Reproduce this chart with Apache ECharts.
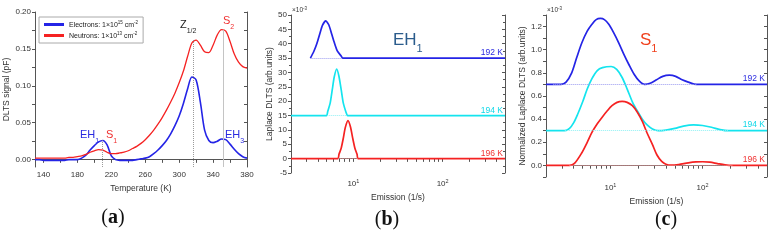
<!DOCTYPE html>
<html>
<head>
<meta charset="utf-8">
<script src="https://cdn.jsdelivr.net/npm/echarts@6/dist/echarts.min.js"></script>
<style>
  html, body { margin: 0; padding: 0; background: #fff; }
  #chart { width: 774px; height: 241px; }
</style>
</head>
<body>
<div id="chart"></div>
<script>
// ---- (a) DLTS spectra vs temperature
const tempK = [130,135,140,145,150,155,160,165,170,175,180,185,190,195,200,205,210,215,220,225,
  230,235,240,245,250,255,260,265,270,275,280,285,290,295,300,305,310,315,320,325,
  330,335,340,345,350,355,360,365,370,375,380];
const electrons = [0.000,0.000,-0.001,-0.001,-0.001,-0.001,-0.001,-0.001,0.000,0.000,0.000,0.002,0.006,0.013,0.019,0.024,0.026,0.020,0.005,0.000,
  -0.001,-0.001,-0.001,-0.001,0.000,0.001,0.002,0.004,0.008,0.013,0.019,0.026,0.035,0.046,0.059,0.076,0.096,0.112,0.108,0.078,
  0.040,0.026,0.023,0.025,0.028,0.027,0.021,0.014,0.008,0.004,0.002];
const neutrons = [0.002,0.002,0.002,0.002,0.002,0.002,0.002,0.002,0.003,0.003,0.004,0.005,0.007,0.010,0.012,0.0135,0.013,0.010,0.008,0.008,
  0.009,0.010,0.012,0.015,0.018,0.022,0.027,0.033,0.040,0.048,0.057,0.067,0.078,0.090,0.104,0.120,0.140,0.158,0.162,0.155,
  0.146,0.145,0.155,0.169,0.176,0.174,0.160,0.143,0.132,0.126,0.124];
const peakTemps = [209, 317, 352];
const peakTops = [0.026, 0.163, 0.176];
const tempTicks = [140,160,180,200,220,240,260,280,300,320,340,360,380];
const tempLabels = [140,180,220,260,300,340,380];
const dltsTicks = [0,0.025,0.05,0.075,0.1,0.125,0.15,0.175,0.2];
const dltsLabels = [0,0.05,0.1,0.15,0.2];

// ---- (b) Laplace DLTS, EH1 (x1e-3)
const rateB192 = [3.3,3.6,3.9,4.2,4.5,4.9,5.3,5.7,6.1,6.6,7.3,7.6,500];
const lapB192  = [35,37.3,40.1,43.4,46.4,48,46.6,43.5,40.5,37.5,35.7,35,35];
const rateB194 = [2,5.0,5.15,5.5,5.8,6.1,6.5,6.9,7.3,7.7,8.3,8.6,500];
const lapB194  = [15,15,16.3,19.4,24,28.4,31.2,28.6,24,19.4,16,15,15];
const rateB196 = [2,6.7,6.9,7.3,7.7,8.1,8.7,9.3,9.8,10.4,11,11.3,500];
const lapB196  = [0,0,1.5,3.6,7,10.7,13.2,10.9,7.3,3.6,1.5,0,0];
const baseB = [35, 15, 0];
const spanB = [[3.3, 7.5], [5.1, 8.5], [6.8, 11.2]];

// ---- (c) normalized Laplace DLTS, S1 (x1e-3)
const rateC192 = [2,2.9,3.3,3.8,4.3,4.9,5.6,6.3,7.0,7.8,8.6,9.6,10.8,12.3,14,15.9,18,20.5,23.5,27,31.6,37,43.6,51,60,70,86,500];
const normC192 = [0.70,0.70,0.72,0.80,0.93,1.06,1.16,1.22,1.26,1.27,1.26,1.22,1.15,1.06,0.96,0.87,0.79,0.73,0.70,0.71,0.74,0.77,0.78,0.77,0.74,0.72,0.70,0.70];
const rateC194 = [2,3.2,3.6,4.0,4.4,5.0,5.6,6.3,7.2,8.2,10.2,11.7,13.4,15.2,17.3,19.6,22.2,25,28.6,33,40,50,62,80,100,125,155,190,500];
const normC194 = [0.30,0.30,0.32,0.37,0.44,0.55,0.66,0.75,0.82,0.845,0.855,0.83,0.76,0.66,0.55,0.47,0.40,0.35,0.315,0.30,0.305,0.32,0.34,0.35,0.345,0.33,0.31,0.30,0.30];
const rateC196 = [2,3.6,4.1,4.9,5.6,6.3,7.2,8.1,9.2,10.4,11.8,13.4,15.2,17.3,19.6,22.2,25,28.6,32,36,40,46,55,70,85,100,120,145,175,210,500];
const normC196 = [0,0,0.02,0.11,0.2,0.285,0.36,0.415,0.47,0.516,0.545,0.553,0.545,0.516,0.46,0.38,0.28,0.18,0.09,0.035,0.01,0.002,0.008,0.022,0.03,0.032,0.028,0.016,0.005,0,0];
const baseC = [0.7, 0.3, 0];
const spanC = [[2.4, 86], [3.2, 190], [3.6, 210]];

const emissionTicks = [2,3,4,5,6,7,8,9,10,20,30,40,50,60,70,80,90,100,200,300,400,500];
const emissionLabels = [10, 100];
const normTicks = [-0.1,0,0.1,0.2,0.3,0.4,0.5,0.6,0.7,0.8,0.9,1.0,1.1,1.2,1.3];
const normLabels = [0,0.2,0.4,0.6,0.8,1.0,1.2];

const BLUE = '#2424e6', RED = '#f52222', CYAN = '#14e4ee';
const FF = 'Liberation Sans, Arial, sans-serif';
const pair = (xs, ys) => xs.map((x, i) => [x, ys[i]]);

const axisLine = { show: true, lineStyle: { color: '#555', width: 1 } };
const nameStyle = { fontSize: 8.5, color: '#333', fontFamily: FF };
const lblStyle = { fontSize: 8, color: '#333', fontFamily: FF };

// bottom / left axes with labels, top / right copies only carry inward ticks
function xMain(grid, extra) {
  return Object.assign({
    gridIndex: grid, type: 'value', axisLine, splitLine: { show: false },
    nameLocation: 'middle', nameTextStyle: nameStyle
  }, extra);
}
function mirror(base, pos) {
  return Object.assign({}, base, {
    position: pos, name: '',
    axisLabel: { show: false },
    axisTick: Object.assign({}, base.axisTick, { inside: true }),
    minorTick: Object.assign({}, base.minorTick || { show: false }, { inside: true })
  });
}

const logLabel = {
  customValues: emissionLabels, margin: 5,
  formatter: v => '{b|10}{e|' + Math.round(Math.log10(v)) + '}',
  rich: {
    b: { fontSize: 8, color: '#333', fontFamily: FF, lineHeight: 10, verticalAlign: 'bottom' },
    e: { fontSize: 5.5, color: '#333', fontFamily: FF, lineHeight: 6, verticalAlign: 'top' }
  }
};

const xA = xMain(0, { min: 130, max: 380, name: 'Temperature (K)', nameGap: 16,
  axisTick: { customValues: tempTicks, length: 3 },
  axisLabel: Object.assign({ customValues: tempLabels, margin: 4 }, lblStyle) });
const xB = xMain(1, { type: 'log', logBase: 10, min: 2, max: 500, name: 'Emission (1/s)', nameGap: 17,
  axisTick: { customValues: emissionTicks, length: 3 }, axisLabel: logLabel });
const xC = xMain(2, { type: 'log', logBase: 10, min: 2, max: 500, name: 'Emission (1/s)', nameGap: 15,
  axisTick: { customValues: emissionTicks, length: 3 }, axisLabel: logLabel });

const yA = xMain(0, { min: -0.01, max: 0.2, name: 'DLTS signal (pF)', nameGap: 23,
  axisTick: { customValues: dltsTicks, length: 3 },
  axisLabel: Object.assign({ customValues: dltsLabels, margin: 4, formatter: v => v.toFixed(2) }, lblStyle) });
const yB = xMain(1, { min: -5, max: 50, interval: 5, name: 'Laplace DLTS (arb.units)', nameGap: 17,
  axisTick: { length: 3 }, minorTick: { show: true, splitNumber: 2, length: 2 },
  axisLabel: Object.assign({ margin: 4 }, lblStyle) });
const yC = xMain(2, { min: -0.1, max: 1.3, name: 'Normalized Laplace DLTS (arb.units)', nameGap: 17,
  axisTick: { customValues: normTicks, length: 3 },
  axisLabel: Object.assign({ customValues: normLabels, margin: 4, formatter: v => v.toFixed(1) }, lblStyle) });

function line(name, xi, data, color, width, extra) {
  return Object.assign({
    name, type: 'line', xAxisIndex: xi, yAxisIndex: xi, data,
    showSymbol: false, smooth: 0.3, lineStyle: { color, width }, itemStyle: { color },
    animation: false, z: 3
  }, extra);
}
function baseMark(span, base, color) {
  return {
    silent: true, symbol: 'none', label: { show: false },
    lineStyle: { color, type: 'dotted', width: 1 },
    data: [[{ coord: [span[0], base] }, { coord: [span[1], base] }]]
  };
}

function subText(main, s, x, y, color, size) {
  return {
    type: 'text', x, y,
    style: {
      text: '{m|' + main + '}{s|' + s + '}', verticalAlign: 'middle',
      rich: {
        m: { fill: color, fontSize: size, fontFamily: FF, lineHeight: size + 5, verticalAlign: 'top' },
        s: { fill: color, fontSize: Math.round(size * 0.62), fontFamily: FF, lineHeight: Math.round(size * 0.7), verticalAlign: 'bottom' }
      }
    }
  };
}
function plainText(text, x, y, color, size, align) {
  return { type: 'text', x, y, style: { text, fill: color, fontSize: size, fontFamily: FF, align: align || 'left', verticalAlign: 'middle' } };
}
function panelTag(letter, x, y) {
  return {
    type: 'text', x, y,
    style: {
      text: '{p|(}{l|' + letter + '}{p|)}', align: 'center', verticalAlign: 'middle',
      rich: {
        p: { fill: '#111', fontSize: 20, fontFamily: 'Liberation Serif, serif' },
        l: { fill: '#111', fontSize: 20, fontWeight: 'bold', fontFamily: 'Liberation Serif, serif' }
      }
    }
  };
}
function timesTen(x, y) {
  return {
    type: 'text', x, y,
    style: {
      text: '{m|×10}{s|-3}', verticalAlign: 'middle',
      rich: {
        m: { fill: '#333', fontSize: 6.5, fontFamily: FF, lineHeight: 8, verticalAlign: 'bottom' },
        s: { fill: '#333', fontSize: 4.5, fontFamily: FF, lineHeight: 5, verticalAlign: 'top' }
      }
    }
  };
}

const chart = echarts.init(document.getElementById('chart'));
chart.setOption({
  animation: false,
  backgroundColor: '#fff',
  grid: [
    { left: 35, top: 12, width: 212, height: 155 },
    { left: 291, top: 15, width: 214, height: 158 },
    { left: 546, top: 15, width: 221, height: 162 }
  ],
  legend: {
    data: ['Electrons', 'Neutrons'], orient: 'vertical', left: 39, top: 17,
    icon: 'rect', itemWidth: 20, itemHeight: 3, itemGap: 2,
    padding: [3, 5, 3, 5], borderColor: '#aaa', borderWidth: 1, backgroundColor: '#fff',
    formatter: n => n === 'Electrons'
      ? '{t|Electrons: 1×10}{u|15}{t| cm}{u|-2}'
      : '{t|Neutrons: 1×10}{u|13}{t| cm}{u|-2}',
    textStyle: {
      fontSize: 7, fontFamily: FF,
      rich: {
        t: { fontSize: 7, color: '#222', fontFamily: FF, lineHeight: 9, verticalAlign: 'bottom' },
        u: { fontSize: 4.5, color: '#222', fontFamily: FF, lineHeight: 6, verticalAlign: 'top' }
      }
    }
  },
  xAxis: [xA, mirror(xA, 'top'), xB, mirror(xB, 'top'), xC, mirror(xC, 'top')],
  yAxis: [yA, mirror(yA, 'right'), yB, mirror(yB, 'right'), yC, mirror(yC, 'right')],
  series: [
    line('Electrons', 0, pair(tempK, electrons), BLUE, 1.6),
    line('Neutrons', 0, pair(tempK, neutrons), RED, 1.3, {
      markLine: {
        silent: true, symbol: 'none', label: { show: false },
        data: peakTemps.map((t, i) => [
          { coord: [t, -0.01], lineStyle: { color: i < 2 ? '#9a9a9a' : '#c4c4c4', type: i < 2 ? 'dotted' : 'solid', width: 1 } },
          { coord: [t, peakTops[i]] }
        ])
      }
    }),
    line('b192', 2, pair(rateB192, lapB192), BLUE, 1.7, { smooth: 0.2, markLine: baseMark(spanB[0], baseB[0], '#9a9af0') }),
    line('b194', 2, pair(rateB194, lapB194), CYAN, 1.7, { smooth: 0.2, markLine: baseMark(spanB[1], baseB[1], '#8ff0f4') }),
    line('b196', 2, pair(rateB196, lapB196), RED, 1.7, { smooth: 0.2, markLine: baseMark(spanB[2], baseB[2], '#f5a0a0') }),
    line('c192', 4, pair(rateC192, normC192), BLUE, 1.7, { markLine: baseMark(spanC[0], baseC[0], '#9a9af0') }),
    line('c194', 4, pair(rateC194, normC194), CYAN, 1.7, { markLine: baseMark(spanC[1], baseC[1], '#8ff0f4') }),
    line('c196', 4, pair(rateC196, normC196), RED, 1.7, { markLine: baseMark(spanC[2], baseC[2], '#f5a0a0') })
  ],
  graphic: [
    // (a) peak names
    subText('EH', '1', 80, 137, '#2a2ae0', 11),
    subText('S', '1', 106, 137, '#f03030', 11),
    subText('Z', '1/2', 180, 27, '#222', 11),
    subText('S', '2', 223, 23, '#f03030', 11),
    subText('EH', '3', 225, 137, '#2a2ae0', 11),
    // (b)
    timesTen(292, 10),
    subText('EH', '1', 393, 43, '#2b5c8c', 17),
    plainText('192 K', 503, 53, '#2a2ae0', 8.5, 'right'),
    plainText('194 K', 503, 111, '#10d8e8', 8.5, 'right'),
    plainText('196 K', 503, 154, '#f03030', 8.5, 'right'),
    // (c)
    timesTen(547, 10),
    subText('S', '1', 640, 43, '#f0401c', 17),
    plainText('192 K', 765, 79, '#2a2ae0', 8.5, 'right'),
    plainText('194 K', 765, 125, '#10d8e8', 8.5, 'right'),
    plainText('196 K', 765, 160, '#f03030', 8.5, 'right'),
    // panel tags
    panelTag('a', 113, 218),
    panelTag('b', 387, 220),
    panelTag('c', 666, 220)
  ]
});
</script>
</body>
</html>
